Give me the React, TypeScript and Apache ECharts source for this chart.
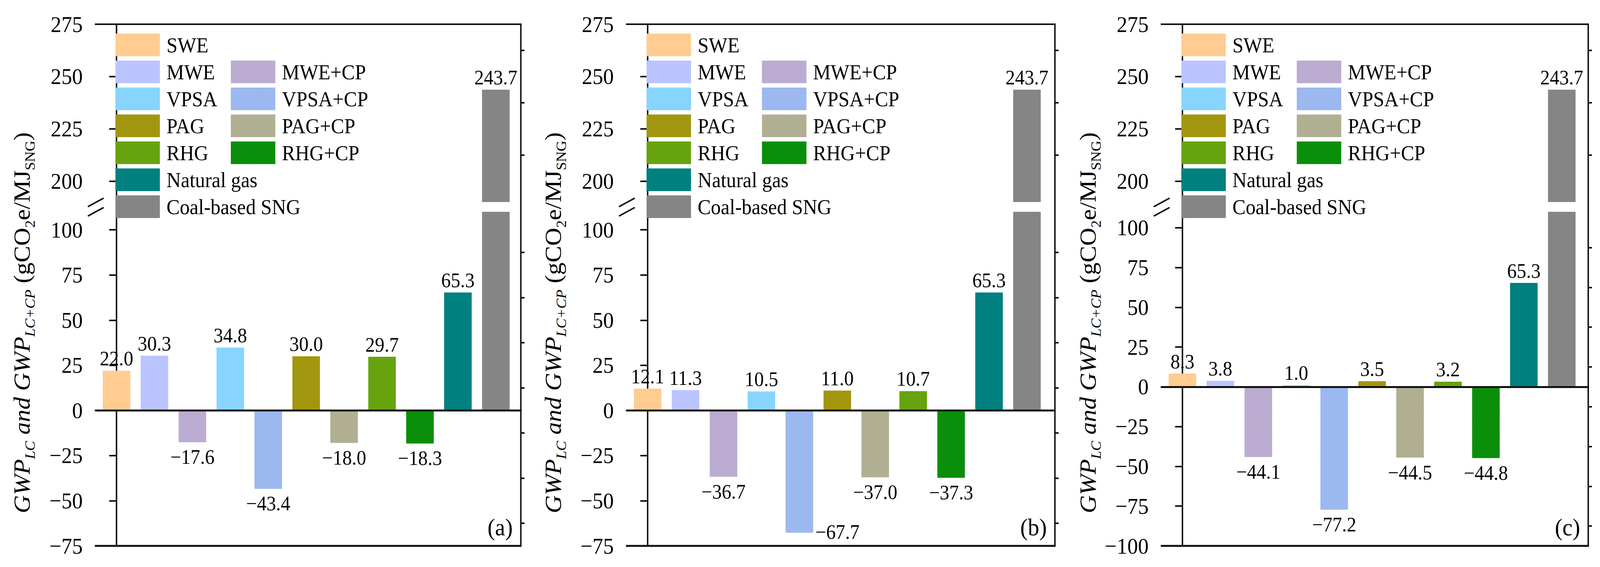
import React, { useEffect, useRef, useState } from 'react';
import * as echarts from 'echarts';

const W = 4353;
const H = 1451;
const FONT = '"Liberation Serif", "Times New Roman", Times, serif';

// ---------- data ----------
const categories = ['SWE', 'MWE', 'MWE+CP', 'VPSA', 'VPSA+CP', 'PAG', 'PAG+CP', 'RHG', 'RHG+CP', 'Natural gas', 'Coal-based SNG'];
const valuesA = [22.0, 30.3, -17.6, 34.8, -43.4, 30.0, -18.0, 29.7, -18.3, 65.3, 243.7];
const valuesB = [12.1, 11.3, -36.7, 10.5, -67.7, 11.0, -37.0, 10.7, -37.3, 65.3, 243.7];
const valuesC = [8.3, 3.8, -44.1, 1.0, -77.2, 3.5, -44.5, 3.2, -44.8, 65.3, 243.7];
const colors = ['#ffcc91', '#bcc4ff', '#b9a8cf', '#87d5fd', '#97b5ef', '#a3960f', '#aeac8e', '#67a30f', '#008a00', '#00807f', '#858585'];
const hatched = [false, false, true, false, true, false, true, false, true, false, false];

const upperRange = [190, 275];
const lowerMax = 110;
const upperTicks = [200, 225, 250, 275];
const upperMinor = [212.5, 237.5, 262.5];
const lowerTicksAB = [-75, -50, -25, 0, 25, 50, 75, 100];
const lowerMinorAB = [-62.5, -37.5, -12.5, 12.5, 37.5, 62.5, 87.5];
const lowerTicksC = [-100, -75, -50, -25, 0, 25, 50, 75, 100];
const lowerMinorC = [-87.5, -62.5, -37.5, -12.5, 12.5, 37.5, 62.5, 87.5];

const legendCol1 = ['SWE', 'MWE', 'VPSA', 'PAG', 'RHG', 'Natural gas', 'Coal-based SNG'];
const legendCol2 = ['MWE+CP', 'VPSA+CP', 'PAG+CP', 'RHG+CP'];

// ---------- layout ----------
const TOP = 62;
const UPPER_BOTTOM = 517;
const LOWER_TOP = 542;
const BOTTOM = 1397;
const BAND_PX = 103.2;
const FIRST_OFFSET_PX = 57;
const INK = '#111';

const panels = [
  { values: valuesA, left: 260, right: 1417, lowerMin: -75, ticks: lowerTicksAB, minor: lowerMinorAB, tag: '(a)', side: [] as string[] },
  { values: valuesB, left: 1705, right: 2870, lowerMin: -75, ticks: lowerTicksAB, minor: lowerMinorAB, tag: '(b)', side: ['VPSA+CP'] },
  { values: valuesC, left: 3160, right: 4321, lowerMin: -100, ticks: lowerTicksC, minor: lowerMinorC, tag: '(c)', side: [] as string[] },
];

const fmt = (v: number, d: number) => (v < 0 ? '\u2212' : '') + Math.abs(v).toFixed(d);

function decalFor(i: number) {
  if (!hatched[i]) return undefined;
  return {
    symbol: 'rect',
    symbolSize: 1,
    color: 'rgba(255,255,255,0.16)',
    dashArrayX: [[2, 2], [0, 2, 2, 0]],
    dashArrayY: [2, 2],
  };
}

function buildOption() {
  const grid: any[] = [];
  const xAxis: any[] = [];
  const yAxis: any[] = [];
  const series: any[] = [];
  const legend: any[] = [];
  const graphic: any[] = [];

  const valueLabelStyle = { fontFamily: FONT, fontSize: 52, color: '#000' };

  panels.forEach((p, pi) => {
    const gU = pi * 2;
    const gL = pi * 2 + 1;
    const width = p.right - p.left;
    const xMin = -FIRST_OFFSET_PX / BAND_PX;
    const xMax = xMin + width / BAND_PX;
    grid.push({ left: p.left, top: TOP, width, height: UPPER_BOTTOM - TOP });
    grid.push({ left: p.left, top: LOWER_TOP, width, height: BOTTOM - LOWER_TOP });

    xAxis.push({ gridIndex: gU, type: 'value', min: xMin, max: xMax, show: false });
    xAxis.push({
      gridIndex: gL, type: 'value', min: xMin, max: xMax, z: 5,
      axisLine: { show: true, onZero: true, onZeroAxisIndex: gL * 2, lineStyle: { color: INK, width: 5 } },
      axisTick: { show: false }, axisLabel: { show: false }, splitLine: { show: false },
    });

    const yMajor = (g: number, min: number, max: number, ticks: number[]) => ({
      gridIndex: g, type: 'value', min, max,
      axisLine: { show: true, lineStyle: { color: INK, width: 4 } },
      axisTick: { show: true, customValues: ticks, length: 20, lineStyle: { color: INK, width: 4 } },
      axisLabel: { show: true, customValues: ticks, margin: 35, fontFamily: FONT, fontSize: 58, color: '#000', formatter: (v: number) => fmt(v, 0) },
      splitLine: { show: false },
    });
    const yMinor = (g: number, min: number, max: number, ticks: number[]) => ({
      gridIndex: g, type: 'value', min, max,
      axisLine: { show: false },
      axisTick: { show: true, customValues: ticks, length: 10, lineStyle: { color: INK, width: 4 } },
      axisLabel: { show: false },
      splitLine: { show: false },
    });
    yAxis.push(yMajor(gU, upperRange[0], upperRange[1], upperTicks));
    yAxis.push(yMinor(gU, upperRange[0], upperRange[1], upperMinor));
    yAxis.push(yMajor(gL, p.lowerMin, lowerMax, p.ticks));
    yAxis.push(yMinor(gL, p.lowerMin, lowerMax, p.minor));

    categories.forEach((cat, i) => {
      const v = p.values[i];
      const itemStyle: any = { color: colors[i] };
      const dec = decalFor(i);
      if (dec) itemStyle.decal = dec;
      let label: any;
      if (v > lowerMax) {
        label = { show: false };
      } else if (p.side.includes(cat)) {
        label = { show: true, position: ['100%', '100%'], align: 'left', verticalAlign: 'middle', offset: [6, -2], ...valueLabelStyle, formatter: (pr: any) => fmt(pr.value[1], 1) };
      } else {
        label = { show: true, position: v >= 0 ? 'top' : 'bottom', distance: v >= 0 ? 5 : 12, ...valueLabelStyle, formatter: (pr: any) => fmt(pr.value[1], 1) };
      }
      series.push({
        type: 'bar', name: cat, xAxisIndex: gL, yAxisIndex: gL * 2,
        data: [[i, v]], barWidth: 75, barGap: '-100%', clip: true,
        itemStyle, label,
      });
      if (v > upperRange[0]) {
        series.push({
          type: 'bar', name: cat, xAxisIndex: gU, yAxisIndex: gU * 2,
          data: [[i, v]], barWidth: 75, barGap: '-100%', clip: true,
          itemStyle,
          label: { show: true, position: 'top', distance: 5, ...valueLabelStyle, formatter: (pr: any) => fmt(pr.value[1], 1) },
        });
      }
    });

    const legendBase = {
      orient: 'vertical', icon: 'rect', itemWidth: 121, itemHeight: 58, itemGap: 11, padding: 0,
      selectedMode: false,
      textStyle: { fontFamily: FONT, fontSize: 54, color: '#000', padding: [0, 0, 0, 13] },
    };
    legend.push({ ...legendBase, left: p.left + 54, top: 86, data: legendCol1 });
    legend.push({ ...legendBase, left: p.left + 368, top: 155, data: legendCol2 });

    const lineStyle = { stroke: INK, lineWidth: 4 };
    graphic.push({ type: 'line', shape: { x1: p.left - 2, y1: TOP, x2: p.right + 2, y2: TOP }, style: lineStyle, z: 10 });
    graphic.push({ type: 'line', shape: { x1: p.right, y1: TOP, x2: p.right, y2: BOTTOM }, style: lineStyle, z: 10 });
    graphic.push({ type: 'line', shape: { x1: p.left - 2, y1: BOTTOM, x2: p.right + 2, y2: BOTTOM }, style: { stroke: INK, lineWidth: 5 }, z: 10 });
    graphic.push({ type: 'line', shape: { x1: p.left - 21, y1: 529, x2: p.left + 22, y2: 507 }, style: lineStyle, z: 10 });
    graphic.push({ type: 'line', shape: { x1: p.left - 21, y1: 553, x2: p.left + 22, y2: 531 }, style: lineStyle, z: 10 });

    const mainTok = { fontFamily: FONT, fontSize: 64, verticalAlign: 'bottom', padding: [0, 0, 10, 0], fill: '#000' };
    const subTok = { fontFamily: FONT, fontSize: 38, verticalAlign: 'bottom', fill: '#000' };
    graphic.push({
      type: 'text', x: p.left - 196, y: 826, rotation: Math.PI / 2, z: 10,
      style: {
        text: '{i|GWP}{is|LC}{i| and GWP}{is|LC+CP}{n| (gCO}{s|2}{n|e/MJ}{s|SNG}{n|)}',
        align: 'center', verticalAlign: 'middle', fill: '#000',
        fontFamily: FONT, fontSize: 64,
        rich: {
          i: { ...mainTok, fontStyle: 'italic' },
          is: { ...subTok, fontStyle: 'italic' },
          n: { ...mainTok },
          s: { ...subTok },
        },
      },
    });
    graphic.push({
      type: 'text', x: p.right - 22, y: 1349, z: 10,
      style: { text: p.tag, align: 'right', verticalAlign: 'middle', fontFamily: FONT, fontSize: 62, fill: '#000' },
    });
  });

  return {
    animation: false,
    backgroundColor: '#fff',
    textStyle: { fontFamily: FONT },
    grid, xAxis, yAxis, series, legend, graphic,
  };
}

export default function App() {
  const ref = useRef<HTMLDivElement>(null);
  const [scale, setScale] = useState<[number, number]>([1, 1]);
  useEffect(() => {
    document.body.style.margin = '0';
    const vw = document.documentElement.clientWidth || window.innerWidth || W;
    const vh = document.documentElement.clientHeight || window.innerHeight || H;
    setScale([Math.min(1, vw / W), Math.min(1, vh / H)]);
    const chart = echarts.init(ref.current!, null, { renderer: 'svg', width: W, height: H });
    chart.setOption(buildOption() as any);
    return () => chart.dispose();
  }, []);
  return (
    <div
      ref={ref}
      style={{ width: W, height: H, position: 'absolute', left: 0, top: 0, transformOrigin: '0 0', transform: `scale(${scale[0]}, ${scale[1]})` }}
    />
  );
}
